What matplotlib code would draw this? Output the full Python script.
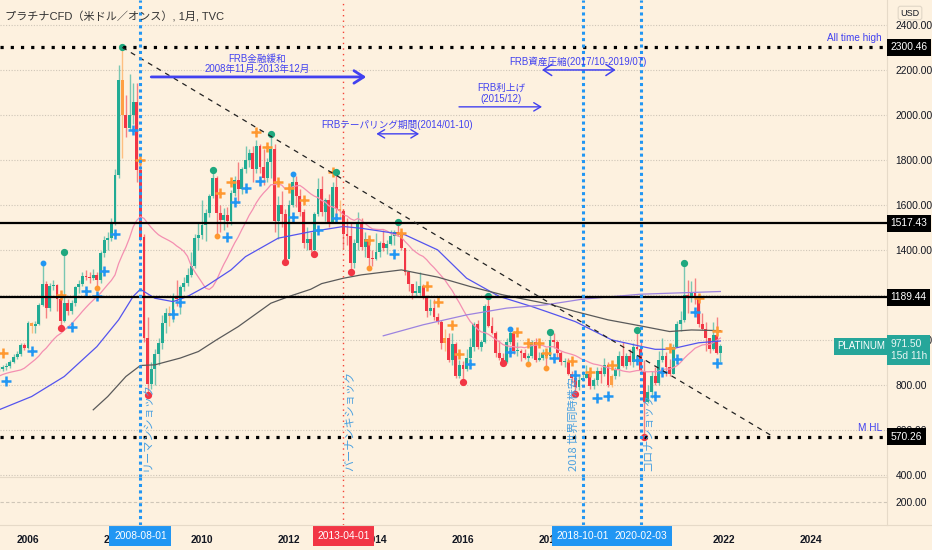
import numpy as np
import pandas as pd
import matplotlib
matplotlib.use('Agg')
import matplotlib.pyplot as plt
from matplotlib.transforms import blended_transform_factory as blend

plt.rcParams['font.family'] = ['Noto Sans CJK JP', 'DejaVu Sans']

# ---------------- data ----------------
title = 'プラチナCFD（米ドル／オンス）, 1月, TVC'
history_start = '2001-01'          # closes before the visible range (used only for the 20-month average)
history_close = [615, 605, 585, 600, 615, 560, 520, 450, 430, 420, 425, 480,
                 465, 480, 515, 540, 535, 530, 525, 540, 560, 580, 585, 600,
                 640, 680, 650, 620, 650, 660, 690, 700, 705, 740, 780, 810,
                 850, 870, 900, 810, 820, 810, 800, 850, 850, 845, 855, 860,
                 860, 865, 865, 865]

first_month = '2005-05'
closes = [870, 880, 885, 900, 925, 935, 975, 965,
          1075, 1060, 1070, 1155, 1250, 1140, 1240, 1245, 1180, 1085, 1165, 1130,
          1165, 1235, 1250, 1285, 1280, 1275, 1290, 1267, 1385, 1445, 1455, 1519,
          1733, 2156, 2000, 1940, 2000, 2059, 1756, 1459, 1010, 805, 870, 935,
          985, 1074, 1119, 1105, 1193, 1180, 1237, 1255, 1290, 1330, 1455, 1465,
          1510, 1565, 1640, 1720, 1563, 1533, 1555, 1530, 1652, 1711, 1670, 1760,
          1800, 1830, 1760, 1860, 1770, 1720, 1790, 1850, 1530, 1600, 1560, 1360,
          1600, 1700, 1640, 1570, 1430, 1450, 1400, 1560, 1670, 1570, 1620, 1525,
          1680, 1580, 1575, 1470, 1460, 1340, 1430, 1520, 1415, 1450, 1365, 1360,
          1390, 1430, 1410, 1425, 1460, 1480, 1475, 1410, 1300, 1250, 1210, 1210,
          1240, 1190, 1130, 1140, 1100, 1080, 985, 1010, 910, 980, 840, 890,
          870, 920, 970, 1070, 970, 990, 1150, 1060, 1030, 940, 920, 900,
          990, 1030, 950, 950, 940, 920, 930, 990, 910, 920, 940, 930,
          1000, 990, 940, 900, 900, 850, 830, 790, 820, 830, 850, 795,
          820, 860, 850, 890, 800, 840, 870, 930, 885, 930, 900, 970,
          960, 860, 725, 770, 840, 810, 910, 930, 880, 850, 970, 1070,
          1090, 1200, 1190, 1210, 1190, 1070, 1050, 1010, 960, 1020, 940, 971.5]
highs = [885, 890, 895, 910, 935, 950, 985, 985,
         1085, 1080, 1085, 1165, 1340, 1260, 1255, 1265, 1250, 1190, 1390, 1180,
         1175, 1240, 1265, 1300, 1310, 1300, 1315, 1300, 1395, 1460, 1480, 1540,
         1760, 2220, 2300, 2090, 2180, 2140, 2140, 1790, 1470, 1100, 900, 960,
         1010, 1110, 1140, 1150, 1210, 1265, 1245, 1280, 1320, 1390, 1470, 1520,
         1620, 1580, 1650, 1755, 1730, 1600, 1585, 1590, 1665, 1730, 1790, 1770,
         1860, 1850, 1860, 1890, 1870, 1850, 1810, 1915, 1870, 1640, 1660, 1580,
         1620, 1738, 1730, 1670, 1580, 1500, 1480, 1570, 1720, 1730, 1630, 1650,
         1700, 1745, 1620, 1580, 1540, 1520, 1450, 1570, 1540, 1480, 1460, 1400,
         1475, 1440, 1490, 1445, 1490, 1490, 1524, 1490, 1410, 1290, 1250, 1260,
         1300, 1250, 1200, 1180, 1180, 1120, 1090, 1050, 1030, 1030, 990, 910,
         905, 960, 1010, 1080, 1090, 1000, 1160, 1196, 1100, 1040, 1000, 940,
         1010, 1050, 1040, 990, 960, 960, 940, 1000, 1010, 945, 960, 940,
         1033, 1030, 1000, 950, 920, 920, 860, 840, 840, 860, 890, 850,
         830, 880, 880, 920, 900, 850, 880, 950, 990, 940, 960, 985,
         1044, 1000, 910, 800, 860, 880, 950, 1010, 945, 915, 980, 1085,
         1130, 1341, 1265, 1260, 1275, 1200, 1120, 1080, 1010, 1080, 1100, 980]
lows = [860, 860, 865, 875, 895, 915, 930, 955,
        960, 1030, 1030, 1065, 1150, 1095, 1130, 1220, 1130, 1052, 1080, 1110,
        1115, 1150, 1210, 1240, 1265, 1255, 1265, 1230, 1255, 1370, 1400, 1440,
        1510, 1720, 1810, 1900, 1935, 1960, 1700, 1440, 990, 756, 780, 800,
        890, 960, 1030, 1060, 1080, 1150, 1115, 1215, 1240, 1280, 1320, 1400,
        1450, 1440, 1545, 1630, 1460, 1480, 1490, 1500, 1510, 1640, 1610, 1650,
        1740, 1770, 1700, 1740, 1740, 1690, 1700, 1720, 1480, 1450, 1500, 1348,
        1370, 1590, 1590, 1550, 1410, 1400, 1390, 1382, 1550, 1550, 1530, 1500,
        1520, 1560, 1540, 1410, 1420, 1300, 1320, 1400, 1400, 1370, 1319, 1330,
        1355, 1370, 1395, 1380, 1420, 1420, 1460, 1400, 1290, 1215, 1180, 1190,
        1200, 1180, 1100, 1110, 1090, 1070, 960, 950, 900, 890, 830, 830,
        812, 860, 910, 950, 960, 950, 985, 1055, 1025, 925, 910, 896,
        895, 980, 935, 930, 905, 915, 893, 920, 900, 905, 910, 874,
        920, 965, 920, 890, 880, 845, 810, 760, 775, 815, 830, 780,
        780, 800, 810, 840, 790, 790, 825, 840, 880, 870, 890, 880,
        955, 850, 570, 720, 740, 800, 800, 900, 840, 840, 850, 970,
        1040, 1080, 1120, 1170, 1160, 1055, 1045, 950, 940, 955, 935, 900]
orange_candles = ['2006-02', '2008-03', '2009-04', '2013-03', '2015-08', '2019-06']

# slower averages (month, value)
ma_blue = [('2005-05', 689), ('2006-02', 748), ('2006-11', 837), ('2007-08', 970), ('2008-02', 1089),
           ('2008-06', 1193), ('2008-08', 1225), ('2008-12', 1185), ('2009-05', 1170), ('2009-09', 1193),
           ('2010-02', 1237), ('2010-09', 1311), ('2011-01', 1370), ('2011-10', 1452), ('2012-07', 1481),
           ('2013-04', 1504), ('2013-09', 1496), ('2014-09', 1467), ('2015-06', 1400), ('2016-02', 1274),
           ('2016-11', 1193), ('2017-08', 1148), ('2017-12', 1126), ('2018-08', 1081), ('2019-06', 1000),
           ('2020-01', 975), ('2020-06', 958), ('2020-10', 958), ('2021-06', 987), ('2021-12', 995)]
ma_gray = [('2007-07', 689), ('2007-11', 748), ('2008-04', 837), ('2008-08', 886), ('2008-12', 889),
           ('2009-07', 919), ('2009-12', 948), ('2010-05', 1000), ('2010-11', 1059), ('2011-08', 1163),
           ('2012-01', 1193), ('2012-07', 1225), ('2012-10', 1250), ('2013-04', 1274), ('2013-09', 1289),
           ('2014-08', 1311), ('2015-06', 1279), ('2016-03', 1237), ('2016-12', 1200), ('2018-01', 1158),
           ('2018-08', 1126), ('2019-05', 1089), ('2020-02', 1062), ('2020-10', 1037), ('2021-04', 1044),
           ('2021-12', 1041)]
ma_purple = [('2014-03', 1018), ('2015-02', 1067), ('2016-02', 1111), ('2017-01', 1141),
             ('2017-12', 1156), ('2018-10', 1181), ('2020-02', 1203), ('2021-12', 1215)]

blue_plus = [('2005-07', 815), ('2006-02', 951), ('2007-01', 1059), ('2007-05', 1215), ('2007-08', 1193),
             ('2007-10', 1304), ('2008-01', 1471), ('2008-06', 1933), ('2009-05', 1116), ('2009-07', 1170),
             ('2010-08', 1458), ('2010-10', 1615), ('2011-01', 1674), ('2011-05', 1707), ('2012-02', 1546),
             ('2012-09', 1489), ('2013-02', 1541), ('2014-06', 1381), ('2016-03', 892), ('2017-02', 945),
             ('2018-02', 919), ('2018-08', 844), ('2019-02', 741), ('2019-05', 751), ('2020-01', 911),
             ('2020-06', 751), ('2020-08', 859), ('2020-12', 914), ('2021-05', 1126), ('2021-11', 896)]
orange_plus = [('2005-06', 941), ('2006-10', 1200), ('2008-08', 1800), ('2010-06', 1652), ('2010-09', 1704),
               ('2011-04', 1922), ('2011-07', 1859), ('2011-10', 1704), ('2012-01', 1674), ('2012-05', 1622),
               ('2013-01', 1748), ('2013-11', 1444), ('2014-08', 1474), ('2015-03', 1240), ('2015-06', 1170),
               ('2015-10', 1068), ('2015-12', 938), ('2017-04', 1033), ('2017-07', 988), ('2017-10', 988),
               ('2017-12', 941), ('2018-07', 904), ('2018-12', 859), ('2019-06', 886), ('2020-10', 963),
               ('2021-06', 1188), ('2021-11', 1040)]
green_dots = [('2006-11', 1390), ('2008-03', 2300), ('2010-04', 1755), ('2011-08', 1915), ('2013-02', 1745),
              ('2014-07', 1524), ('2016-08', 1196), ('2018-01', 1033), ('2020-01', 1044), ('2021-02', 1341)]
red_dots = [('2006-10', 1052), ('2008-10', 756), ('2011-12', 1348), ('2012-08', 1382), ('2013-06', 1300),
            ('2016-01', 812), ('2016-12', 896), ('2018-08', 760), ('2020-03', 570)]
orange_dots = [('2007-08', 1230), ('2010-05', 1460), ('2013-11', 1319), ('2017-07', 893), ('2017-12', 874)]
blue_dots = [('2006-05', 1340), ('2012-02', 1738), ('2017-02', 1050)]

levels_solid = [1517.43, 1189.44]
levels_dotted = [2300.46, 570.26]
trend_start = ('2008-03', 2300.46)
trend_end = ('2023-02', 575)
event_blue = ['2008-08-01', '2018-10-01', '2020-02-03']
event_red = ['2013-04-01']
event_texts = [('2008-08', 'リーマンショック'), ('2013-04', 'バーナンキショック'),
               ('2018-10', '2018 世界同時株安'), ('2020-02', 'コロナショック')]
year_ticks = [2006, 2008, 2010, 2012, 2014, 2016, 2018, 2022, 2024]
price_ticks = [400, 600, 800, 1000, 1400, 1600, 1800, 2000, 2200, 2400]
last_price = 971.50
countdown = '15d 11h'


def mi(s):
    p = s.split('-')
    m = (int(p[0]) - 2006) * 12 + int(p[1]) - 1
    if len(p) > 2:
        m += (int(p[2]) - 1) / 30.0
    return m


BG = '#fdf1df'
GREEN = '#22ab94'
RED = '#f23645'
ORANGE = '#ff9f43'
BLUE = '#2196f3'
ANN = '#4141f0'
TXT = '#131722'
NUMF = ['Liberation Sans', 'DejaVu Sans']
ANNF = ['Liberation Sans', 'Noto Sans CJK JP']

W, H = 932, 550
fig = plt.figure(figsize=(W / 100, H / 100), dpi=100, facecolor=BG)
ax = fig.add_axes([0, 1 - 477 / H, 887 / W, 477 / H], facecolor=BG)
axl = fig.add_axes([0, 1 - 525 / H, 887 / W, 48 / H], facecolor=BG, sharex=ax)

x0 = mi(first_month)
n = len(closes)
mx = np.arange(x0, x0 + n)
opens = np.array([history_close[-1]] + closes[:-1], dtype=float)
c = np.array(closes, dtype=float)
hi = np.array(highs, dtype=float)
lo = np.array(lows, dtype=float)
orange_set = {mi(s) for s in orange_candles}
cols = []
for i in range(n):
    if mx[i] in orange_set:
        cols.append(ORANGE)
    elif c[i] >= opens[i]:
        cols.append(GREEN)
    else:
        cols.append(RED)

# gridlines
for p in [400, 600, 800, 1000, 1200, 1400, 1600, 1800, 2000, 2200, 2400]:
    ax.axhline(p, color='#cfc6b8', lw=0.8, ls=(0, (1, 1.5)), zorder=0)

# wicks & bodies
wick_cols = [matplotlib.colors.to_rgba(cc, 0.6) for cc in cols]
ax.vlines(mx, lo, hi, colors=wick_cols, lw=1.0, zorder=2)
body_h = np.maximum(np.abs(c - opens), 5)
body_b = np.minimum(c, opens)
ax.bar(mx, body_h, bottom=body_b, width=0.8, color=cols, lw=0, zorder=3)

# moving averages
all_close = pd.Series(history_close + closes, dtype=float)
all_m = np.arange(mi(history_start), mi(history_start) + len(all_close))
ax.plot(all_m, all_close.rolling(20).mean(), color='#f48fb1', lw=0.9, zorder=4)


def pts(lst):
    return [mi(d) for d, _ in lst], [v for _, v in lst]


ax.plot(*pts(ma_blue), color='#5454ee', lw=0.9, zorder=4)
ax.plot(*pts(ma_gray), color='#5a5a5a', lw=0.9, zorder=4)
ax.plot(*pts(ma_purple), color='#9c83e0', lw=0.9, zorder=4)

# markers
ax.plot(*pts(blue_plus), ls='none', marker='+', ms=6.5, mew=1.8, color=BLUE, zorder=5)
ax.plot(*pts(orange_plus), ls='none', marker='+', ms=6.5, mew=1.8, color='#ff9830', zorder=5)
ax.plot(*pts(green_dots), ls='none', marker='o', ms=4.2, color='#1fa87f', zorder=5)
ax.plot(*pts(red_dots), ls='none', marker='o', ms=4.2, color=RED, zorder=5)
ax.plot(*pts(orange_dots), ls='none', marker='o', ms=3.2, color='#ff9830', zorder=5)
ax.plot(*pts(blue_dots), ls='none', marker='o', ms=3.2, color=BLUE, zorder=5)

# horizontal levels
for p in levels_solid:
    ax.axhline(p, color='black', lw=1.6, zorder=6)
for p in levels_dotted:
    ax.axhline(p, color='black', lw=2.3, ls=(0, (1, 2.2)), zorder=6)

# trend line
ax.plot([mi(trend_start[0]), mi(trend_end[0])], [trend_start[1], trend_end[1]],
        color='#222222', lw=0.9, ls=(0, (4, 4)), zorder=6)

# event lines
for a in (ax, axl):
    for d in event_blue:
        a.axvline(mi(d), color=BLUE, lw=2.2, ls=(0, (1, 1.1)), zorder=7)
    for d in event_red:
        a.axvline(mi(d), color='#f44336', lw=1.0, ls=(0, (1, 3)), zorder=7)

for d, t in event_texts:
    off = -2.4 if d.startswith('2018') else 2.0
    ax.text(mi(d) + off, 418, t, rotation=90, ha='center', va='bottom', color='#4aa0e0',
            fontsize=8.0, zorder=8)

# annotations
AFS = 6.9
ax.text(63.3, 2226, 'FRB金融緩和\n2008年11月-2013年12月', ha='center', va='center',
        color=ANN, fontsize=AFS, linespacing=1.05, family=ANNF, zorder=8)
ax.annotate('', xy=(mi('2013-10') + 0.3, 2169), xytext=(mi('2008-11'), 2169),
            arrowprops=dict(arrowstyle='->,head_length=0.7,head_width=0.45', lw=2.0, color=ANN,
                            shrinkA=0, shrinkB=0), zorder=8)
ax.text(101.8, 1956, 'FRBテーパリング期間(2014/01-10)', ha='center', va='center',
        color=ANN, fontsize=AFS, family=ANNF, zorder=8)
ax.annotate('', xy=(107.9, 1916), xytext=(96.1, 1916),
            arrowprops=dict(arrowstyle='<->,head_length=0.5,head_width=0.3', lw=1.0, color=ANN,
                            shrinkA=0, shrinkB=0), zorder=8)
ax.text(130.5, 2096, 'FRB利上げ\n(2015/12)', ha='center', va='center',
        color=ANN, fontsize=AFS, linespacing=1.05, family=ANNF, zorder=8)
ax.annotate('', xy=(141.8, 2036), xytext=(118.9, 2036),
            arrowprops=dict(arrowstyle='->,head_length=0.5,head_width=0.3', lw=1.0, color=ANN,
                            shrinkA=0, shrinkB=0), zorder=8)
ax.text(151.7, 2236, 'FRB資産圧縮(2017/10-2019/07)', ha='center', va='center',
        color=ANN, fontsize=AFS, family=ANNF, zorder=8)
ax.annotate('', xy=(162.1, 2200), xytext=(141.8, 2200),
            arrowprops=dict(arrowstyle='<->,head_length=0.6,head_width=0.4', lw=1.1, color=ANN,
                            shrinkA=0, shrinkB=0), zorder=8)

tr = blend(ax.transAxes, ax.transData)
ax.text(0.994, 2342, 'All time high', transform=tr, ha='right', va='center', color=ANN,
        fontsize=7.2, family=ANNF)
ax.text(0.994, 609, 'M HL', transform=tr, ha='right', va='center', color=ANN, fontsize=7.2,
        family=ANNF)

# axes limits and ticks
ax.set_xlim(-28 / 3.625, 859 / 3.625)
ax.set_ylim(390.2, 2511.1)
ax.yaxis.tick_right()
ax.set_yticks(price_ticks)
ax.set_yticklabels([f'{p:.2f}' for p in price_ticks], fontsize=7.4, color=TXT, family=NUMF)
ax.tick_params(axis='y', length=0, pad=6)
ax.tick_params(axis='x', length=0, labelbottom=False)
for s in ('top', 'left', 'bottom'):
    ax.spines[s].set_visible(False)
ax.spines['right'].set_color('#e6dac8')

axl.set_ylim(8, 408)
axl.axhline(200, color='#cfc6b8', lw=0.8, ls=(0, (3, 2)), zorder=0)
axl.yaxis.tick_right()
axl.set_yticks([200])
axl.set_yticklabels(['200.00'], fontsize=7.4, color=TXT, family=NUMF)
axl.tick_params(axis='y', length=0, pad=6)
axl.set_xticks([mi(f'{y}-01') for y in year_ticks])
axl.set_xticklabels([str(y) for y in year_ticks], fontsize=7.4, color=TXT, fontweight='bold',
                    family=NUMF)
axl.tick_params(axis='x', length=0, pad=7)
for s in ('left', 'bottom'):
    axl.spines[s].set_visible(False)
axl.spines['top'].set_color('#e6dac8')
axl.spines['right'].set_color('#e6dac8')
fig.add_artist(plt.Line2D([0, 1], [1 - 525 / H] * 2, color='#e6dac8', lw=0.8))

# date boxes under event lines
trl = blend(axl.transData, axl.transAxes)
for d in event_blue:
    axl.text(mi(d), -0.23, d, transform=trl, ha='center', va='center', color='white', fontsize=7.4,
             family=NUMF, bbox=dict(boxstyle='square,pad=0.45', fc=BLUE, ec='none'),
             zorder=10, clip_on=False)
for d in event_red:
    axl.text(mi(d), -0.23, d, transform=trl, ha='center', va='center', color='white', fontsize=7.4,
             family=NUMF, bbox=dict(boxstyle='square,pad=0.45', fc='#f23645', ec='none'),
             zorder=10, clip_on=False)

# price labels on the scale
for p in levels_solid + levels_dotted:
    ax.text(1.004, p, f'{p:.2f}', transform=tr, ha='left', va='center', color='white', fontsize=7.4,
            family=NUMF, bbox=dict(boxstyle='square,pad=0.35', fc='black', ec='none'),
            zorder=10, clip_on=False)
ax.text(0.9975, last_price, 'PLATINUM', transform=tr, ha='right', va='center', color='white',
        fontsize=7.0, family=NUMF,
        bbox=dict(boxstyle='square,pad=0.35', fc='#26a69a', ec='none'), zorder=10)
ax.annotate(f'{last_price:.2f}\n{countdown}', xy=(1.004, last_price), xycoords=tr,
            xytext=(0, 5.5), textcoords='offset points', ha='left', va='top', color='#e8f5f3',
            fontsize=7.4, linespacing=1.3, family=NUMF,
            bbox=dict(boxstyle='square,pad=0.35', fc='#26a69a', ec='none'), zorder=10,
            annotation_clip=False)

fig.text(910 / W, 1 - 13 / H, 'USD', ha='center', va='center', fontsize=6.5, color=TXT, family=NUMF,
         bbox=dict(boxstyle='round,pad=0.25', fc=BG, ec='#e0d6c6', lw=0.8))
fig.text(5 / W, 1 - 17 / H, title, ha='left', va='center', fontsize=8.0, color='#333333',
         family=ANNF)

fig.savefig('out.png', dpi=100, facecolor=BG)
